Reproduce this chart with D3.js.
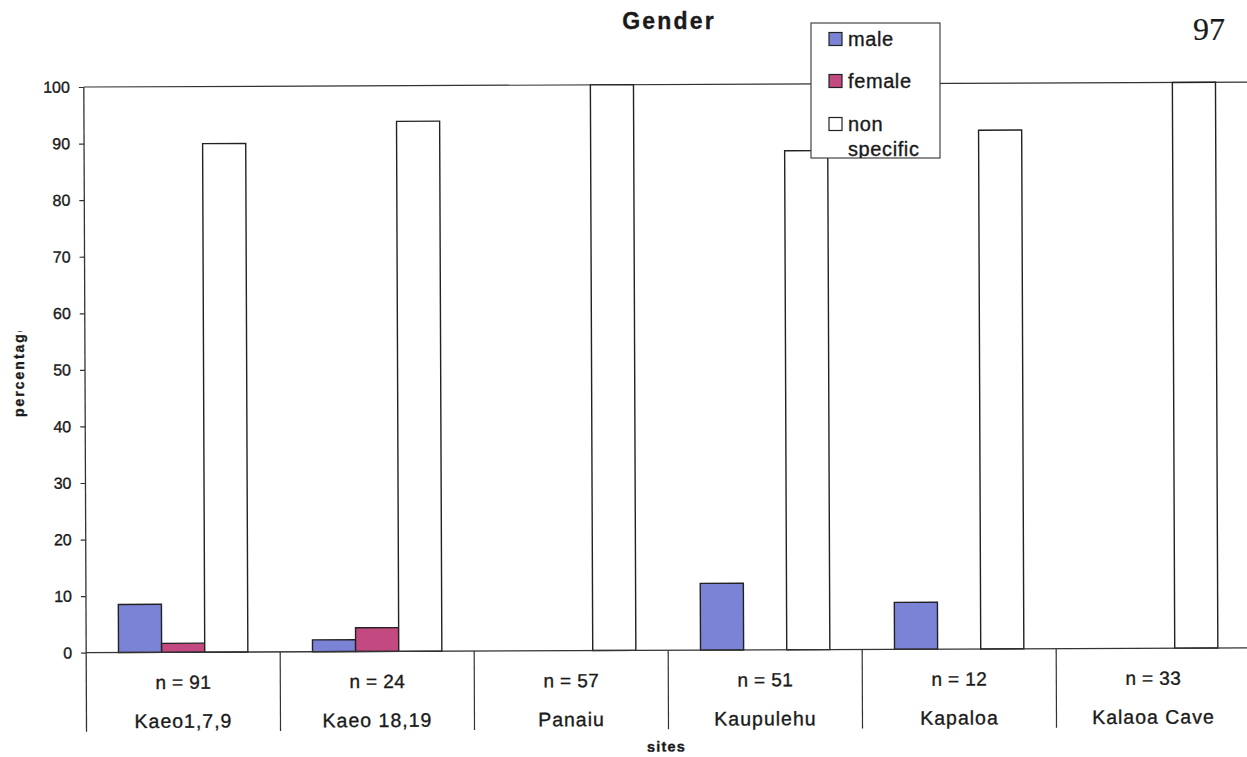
<!DOCTYPE html>
<html>
<head>
<meta charset="utf-8">
<script src="https://cdn.jsdelivr.net/npm/d3@7/dist/d3.min.js"></script>
<style>
  html, body { margin: 0; padding: 0; background: #fff; }
  svg { display: block; }
  text { font-family: "Liberation Sans", Arial, sans-serif; fill: #1a1a1a; stroke: #1a1a1a; stroke-width: 0.35px; }
</style>
</head>
<body>
<svg id="chart" width="1247" height="757"></svg>
<script>
// Sites, sample sizes and percentages per gender group
const sites = ["Kaeo1,7,9", "Kaeo 18,19", "Panaiu", "Kaupulehu", "Kapaloa", "Kalaoa Cave"];
const sampleSizes = ["n = 91", "n = 24", "n = 57", "n = 51", "n = 12", "n = 33"];
const seriesNames = ["male", "female", "non specific"];
const male = [8.5, 2.1, 0, 11.8, 8.3, 0];
const female = [1.6, 4.2, 0, 0, 0, 0];
const nonSpecific = [89.9, 93.7, 100, 88.2, 91.7, 100];
const yTicks = [0, 10, 20, 30, 40, 50, 60, 70, 80, 90, 100];

const colors = { "male": "#7b83d6", "female": "#c24a80", "non specific": "#ffffff" };
const seriesValues = { "male": male, "female": female, "non specific": nonSpecific };

const rows = sites.map((s, i) => ({
  site: s,
  n: sampleSizes[i],
  values: seriesNames.map(k => ({ key: k, value: seriesValues[k][i] }))
}));

const svg = d3.select("#chart");

// plot frame
const plotLeft = 85, plotRight = 1249, plotTop = 87, zeroY = 652.7, catDepth = 79;

const x0 = d3.scaleBand().domain(sites).range([plotLeft, plotRight]).paddingInner(0).paddingOuter(0);
const x1 = d3.scaleBand().domain(seriesNames).range([0, x0.bandwidth()]).paddingInner(0).paddingOuter(0.75);
const y = d3.scaleLinear().domain([0, 100]).range([zeroY, plotTop]);

// the whole chart sits slightly tilted on the page
const g = svg.append("g").attr("transform", `rotate(-0.24, ${plotLeft}, 370)`);

// top border of plot area
g.append("line")
  .attr("x1", plotLeft).attr("x2", plotRight + 10)
  .attr("y1", y(100)).attr("y2", y(100))
  .attr("stroke", "#333").attr("stroke-width", 1.2);

// bars
const groups = g.selectAll("g.site").data(rows).join("g")
  .attr("class", "site")
  .attr("transform", d => `translate(${x0(d.site)},0)`);

groups.selectAll("rect").data(d => d.values.filter(v => v.value > 0)).join("rect")
  .attr("x", d => x1(d.key))
  .attr("width", x1.bandwidth())
  .attr("y", d => y(d.value))
  .attr("height", d => y(0) - y(d.value))
  .attr("fill", d => colors[d.key])
  .attr("stroke", "#222")
  .attr("stroke-width", 1.4);

// y axis
const yAxis = d3.axisLeft(y).tickValues(yTicks).tickSize(5).tickPadding(9);
const ya = g.append("g").attr("transform", `translate(${plotLeft},0)`).call(yAxis);
ya.select(".domain").remove();
ya.selectAll(".tick line").attr("stroke", "#333").attr("stroke-width", 1.2);
ya.selectAll(".tick text")
  .style("font-family", "'Liberation Sans', Arial, sans-serif")
  .style("font-size", "16px")
  .attr("fill", "#1a1a1a");

g.append("line")
  .attr("x1", plotLeft).attr("x2", plotLeft)
  .attr("y1", y(100)).attr("y2", zeroY + catDepth)
  .attr("stroke", "#333").attr("stroke-width", 1.3);

// zero axis line
g.append("line")
  .attr("x1", plotLeft).attr("x2", plotRight + 10)
  .attr("y1", zeroY).attr("y2", zeroY)
  .attr("stroke", "#333").attr("stroke-width", 1.3);

// category separators and two-row labels
const bounds = sites.map(s => x0(s)).concat([plotRight]);
g.selectAll("line.sep").data(bounds.slice(1)).join("line")
  .attr("class", "sep")
  .attr("x1", d => d).attr("x2", d => d)
  .attr("y1", zeroY).attr("y2", zeroY + catDepth)
  .attr("stroke", "#333").attr("stroke-width", 1.2);

g.selectAll("text.nlab").data(rows).join("text")
  .attr("class", "nlab")
  .attr("x", d => x0(d.site) + x0.bandwidth() / 2)
  .attr("y", zeroY + 36.5)
  .attr("text-anchor", "middle")
  .style("font-size", "19px")
  .style("letter-spacing", "0.4px")
  .text(d => d.n);

g.selectAll("text.slab").data(rows).join("text")
  .attr("class", "slab")
  .attr("x", d => x0(d.site) + x0.bandwidth() / 2)
  .attr("y", zeroY + 75.5)
  .attr("text-anchor", "middle")
  .style("font-size", "19.5px")
  .style("letter-spacing", "1px")
  .text(d => d.site);

// axis titles
g.append("text")
  .attr("x", 665).attr("y", 754)
  .attr("text-anchor", "middle")
  .style("font-size", "14.5px")
  .style("font-weight", "bold")
  .style("letter-spacing", "1.2px")
  .text("sites");

svg.append("clipPath").attr("id", "ytitle-clip")
  .append("rect").attr("x", 0).attr("y", 331).attr("width", 60).attr("height", 120);
svg.append("g")
  .attr("clip-path", "url(#ytitle-clip)")
  .append("text")
  .attr("transform", "translate(24,417) rotate(-90)")
  .attr("text-anchor", "start")
  .style("font-size", "14px")
  .style("font-weight", "bold")
  .style("letter-spacing", "2px")
  .text("percentage");

// chart title
svg.append("text")
  .attr("x", 669).attr("y", 29)
  .attr("text-anchor", "middle")
  .style("font-size", "23px")
  .style("font-weight", "bold")
  .style("letter-spacing", "2.2px")
  .text("Gender");

// page number
svg.append("text")
  .attr("x", 1225).attr("y", 40)
  .attr("text-anchor", "end")
  .style("font-family", "'Liberation Serif', 'Times New Roman', serif")
  .style("font-size", "32px")
  .style("stroke-width", "0.2px")
  .attr("fill", "#111")
  .text("97");

// legend
const lg = svg.append("g").attr("transform", "translate(811,23)");
svg.append("clipPath").attr("id", "legend-clip")
  .append("rect").attr("x", 811).attr("y", 23).attr("width", 129).attr("height", 135);
lg.append("rect")
  .attr("width", 129).attr("height", 135)
  .attr("fill", "#fff").attr("stroke", "#444").attr("stroke-width", 1.2);
const lgItems = svg.append("g").attr("clip-path", "url(#legend-clip)")
  .append("g").attr("transform", "translate(811,23)");
const legendRows = [16, 58, 101];
seriesNames.forEach((k, i) => {
  const cy = legendRows[i];
  lgItems.append("rect")
    .attr("x", 18).attr("y", cy - 6.5).attr("width", 13).attr("height", 13)
    .attr("fill", colors[k]).attr("stroke", "#222").attr("stroke-width", 1.2);
  const words = k.split(" ");
  words.forEach((w, j) => {
    lgItems.append("text")
      .attr("x", 37).attr("y", cy + 7 + j * 25)
      .style("font-size", "20px")
      .style("letter-spacing", "0.6px")
      .text(w);
  });
});
</script>
</body>
</html>
